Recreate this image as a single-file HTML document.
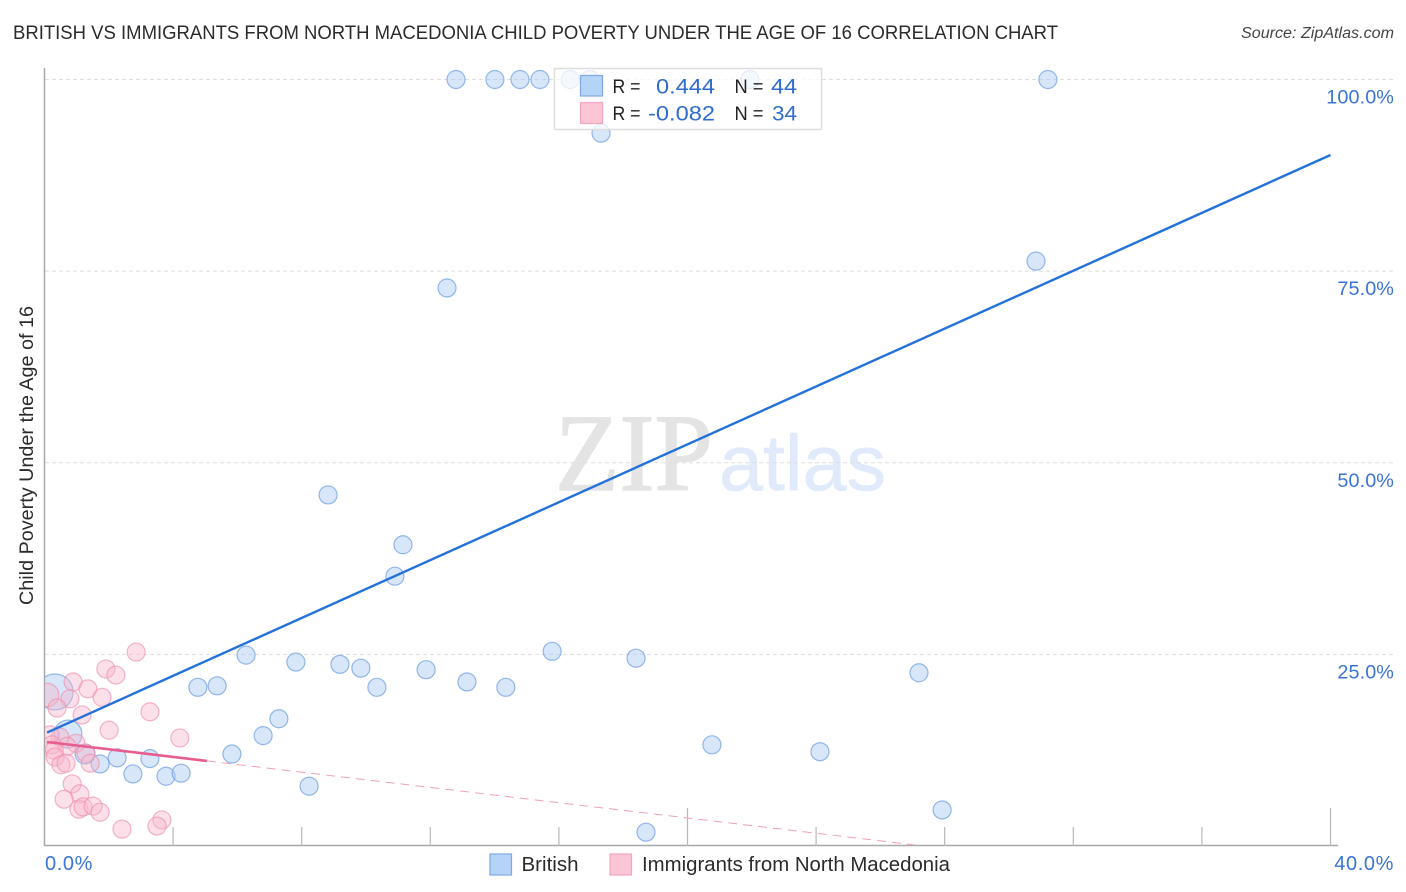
<!DOCTYPE html>
<html lang="en">
<head>
<meta charset="utf-8">
<title>British vs Immigrants from North Macedonia Child Poverty Correlation Chart</title>
<style>
html,body{margin:0;padding:0;background:#fff;width:1406px;height:892px;overflow:hidden}
svg{display:block;font-family:"Liberation Sans",sans-serif}
</style>
</head>
<body>
<svg id="chart" xmlns="http://www.w3.org/2000/svg" width="1406" height="892" viewBox="0 0 1406 892">
  <defs><clipPath id="plot-clip"><rect x="45" y="60" width="1361" height="786"/></clipPath></defs>
  <text x="13" y="39" font-size="19.5" fill="#2b2b2b" textLength="1045" lengthAdjust="spacingAndGlyphs">BRITISH VS IMMIGRANTS FROM NORTH MACEDONIA CHILD POVERTY UNDER THE AGE OF 16 CORRELATION CHART</text>
  <text x="1241" y="38" font-size="15.5" font-style="italic" fill="#444" textLength="153" lengthAdjust="spacingAndGlyphs">Source: ZipAtlas.com</text>
  <g>
    <text x="555" y="490" font-family="'Liberation Serif',serif" font-size="110" fill="#e4e4e4" stroke="#e4e4e4" stroke-width="1.4" textLength="158" lengthAdjust="spacingAndGlyphs">ZIP</text>
    <text x="719" y="490" font-size="79" fill="#e0eafa" stroke="#e0eafa" stroke-width="0.6" textLength="167" lengthAdjust="spacingAndGlyphs">atlas</text>
  </g>
  <g id="grid"></g>
  <g id="axes"></g>
  <g id="points" clip-path="url(#plot-clip)"></g>
  <g id="trends"></g>
  <g>
    <rect x="554.5" y="68.5" width="267" height="61" fill="#fff" fill-opacity="0.75" stroke="#dedede" stroke-width="1.5"/>
    <rect x="580.5" y="75.5" width="22" height="20.500" fill="#b5d2f7" stroke="#7fa9e0" stroke-width="1.2"/>
    <rect x="580.5" y="102.500" width="22" height="21" fill="#fcc5d6" stroke="#f2a5bd" stroke-width="1.2"/>
    <text x="612.500" y="93" font-size="19" fill="#222" textLength="28" lengthAdjust="spacingAndGlyphs">R =</text>
    <text x="656" y="93.500" font-size="21" fill="#2f6ccf" textLength="59" lengthAdjust="spacingAndGlyphs">0.444</text>
    <text x="734.500" y="93" font-size="19" fill="#222" textLength="29" lengthAdjust="spacingAndGlyphs">N =</text>
    <text x="771" y="93.500" font-size="21" fill="#2f6ccf" textLength="26" lengthAdjust="spacingAndGlyphs">44</text>
    <text x="612.500" y="120" font-size="19" fill="#222" textLength="28" lengthAdjust="spacingAndGlyphs">R =</text>
    <text x="648" y="120.500" font-size="21" fill="#2f6ccf" textLength="67" lengthAdjust="spacingAndGlyphs">-0.082</text>
    <text x="734.500" y="120" font-size="19" fill="#222" textLength="29" lengthAdjust="spacingAndGlyphs">N =</text>
    <text x="772" y="120.500" font-size="21" fill="#2f6ccf" textLength="25" lengthAdjust="spacingAndGlyphs">34</text>
  </g>
  <text transform="translate(33 455.500) rotate(-90)" font-size="19" fill="#2b2b2b" text-anchor="middle" textLength="299" lengthAdjust="spacingAndGlyphs">Child Poverty Under the Age of 16</text>
  <g>
    <rect x="490" y="854" width="21.500" height="21" fill="#b5d2f7" stroke="#7fa9e0" stroke-width="1.2"/>
    <text x="521.500" y="871" font-size="20" fill="#2b2b2b" textLength="57" lengthAdjust="spacingAndGlyphs">British</text>
    <rect x="610" y="854" width="21.500" height="21" fill="#fcc5d6" stroke="#f2a5bd" stroke-width="1.2"/>
    <text x="642" y="871" font-size="20" fill="#2b2b2b" textLength="308" lengthAdjust="spacingAndGlyphs">Immigrants from North Macedonia</text>
  </g>
</svg>
<script>
// Data (percent values)
const britishX = [12.80,14.01,14.79,15.41,16.35,16.97,21.94,31.21,17.31,30.84,12.52,8.82,11.15,10.90,15.79,18.40,27.20,6.27,7.82,9.19,9.84,10.34,11.87,13.14,14.35,4.77,5.37,7.29,6.80,5.83,3.28,2.26,1.73,2.75,3.78,4.25,8.23,20.76,24.12,27.92,18.71,0.33,0.73,1.26];
const britishY = [100,100,100,100,100,100,100,100,93.0,76.3,72.8,45.8,39.3,35.2,25.4,24.5,22.6,24.9,24.0,23.7,23.2,20.7,23.0,21.4,20.7,20.7,20.9,16.6,14.4,12.0,11.4,11.5,10.7,9.4,9.1,9.5,7.8,13.2,12.3,4.7,1.8,20.1,14.6,12.0];
const britishWeight = [1,1,1,1,1,1,1,1,1,1,1,1,1,1,1,1,1,1,1,1,1,1,1,1,1,1,1,1,1,1,1,1,1,1,1,1,1,1,1,1,1,4,2.4,1.2];
const immigrantX = [2.85,1.91,2.22,0.89,1.35,1.79,0.79,0.08,0.39,1.17,3.28,2.01,4.21,0.48,0.17,0.98,0.70,0.23,0.30,0.33,0.51,0.67,1.29,1.42,0.86,1.10,0.61,1.07,1.20,1.51,1.73,2.41,3.65,3.50];
const immigrantY = [25.3,23.1,22.3,21.4,20.5,19.4,19.2,19.7,18.0,17.1,17.5,15.1,14.1,14.2,14.5,13.4,13.0,13.2,12.5,11.6,10.6,10.8,12.1,10.8,8.1,6.8,6.1,4.8,5.1,5.2,4.4,2.2,3.4,2.6];
const immigrantWeight = [1,1,1,1,1,1,1,1.7,1,1,1,1,1,1,1,1,1,1,1,1,1,1,1,1,1,1,1,1,1,1,1,1,1,1];
const britishTrendX = [0.08,40];
const britishTrendY = [14.8,90.15];
const immigrantTrendX = [0.08,5.05];
const immigrantTrendY = [13.57,11.1];
const immigrantDashX = [5.05,27.08];
const immigrantDashY = [11.1,0.13];
const xTicks = [0,4,8,12,16,20,24,28,32,36,40];
const xMajorTicks = [20,40];
const yGrid = [25,50,75,100];
const yTickLabels = ["25.0%","50.0%","75.0%","100.0%"];
const xEndValues = [0,40];
const xEndLabels = ["0.0%","40.0%"];

const NS = "http://www.w3.org/2000/svg";
const sx = v => 44.5 + v * 32.15;
const sy = v => 846 - v * 7.665;
function mk(tag, parent, attrs){
  const el = document.createElementNS(NS, tag);
  for (const k in attrs) el.setAttribute(k, attrs[k]);
  parent.appendChild(el);
  return el;
}
const grid = document.getElementById('grid');
const axes = document.getElementById('axes');
const points = document.getElementById('points');
const trends = document.getElementById('trends');

yGrid.forEach((v,i) => {
  const g = mk('line', grid, {x1:45, x2:1394, y1:sy(v), y2:sy(v), stroke:'#dedede', 'stroke-width':1, 'stroke-dasharray':'4 3'});
  
  
  const t = mk('text', axes, {x:1394, y:sy(v)+24, 'font-size':19.8, fill:'#3a74d4', 'text-anchor':'end', 'letter-spacing':0.1});
  t.textContent = yTickLabels[i];
  
  
});

const yAxis = mk('line', axes, {x1:44.5, x2:44.5, y1:68, y2:846, stroke:'#a8a8a8', 'stroke-width':1.5});


const xAxis = mk('line', axes, {x1:44, x2:1338, y1:845.5, y2:845.5, stroke:'#a8a8a8', 'stroke-width':1.5});



xTicks.forEach(v => {
  if (v === 0) return;
  const top = xMajorTicks.includes(v) ? 808 : 827;
  const t = mk('line', axes, {x1:sx(v), x2:sx(v), y1:top, y2:846, stroke:'#b8b8b8', 'stroke-width':1.2});
  
  
});

xEndValues.forEach((v,i) => {
  const t = mk('text', axes, {x: i === 0 ? 45 : 1394, y:870, 'font-size':20, fill:'#3a74d4', 'text-anchor': i === 0 ? 'start' : 'end', 'letter-spacing':0.6});
  t.textContent = xEndLabels[i];
  
  
});

britishX.forEach((v,i) => {
  const c = mk('circle', points, {cx:sx(v), cy:sy(britishY[i]), r:9*Math.sqrt(britishWeight[i]), fill:'#a9c9f3', 'fill-opacity':0.47, stroke:'#6b9be0', 'stroke-opacity':0.7, 'stroke-width':1.2});
  
  
});
immigrantX.forEach((v,i) => {
  const c = mk('circle', points, {cx:sx(v), cy:sy(immigrantY[i]), r:9*Math.sqrt(immigrantWeight[i]), fill:'#f9b6ca', 'fill-opacity':0.42, stroke:'#ee8dab', 'stroke-opacity':0.65, 'stroke-width':1.2});
  
  
});

const lineBlue = mk('line', trends, {x1:sx(britishTrendX[0]), y1:sy(britishTrendY[0]), x2:sx(britishTrendX[1]), y2:sy(britishTrendY[1]), stroke:'#2472d9', 'stroke-width':2.4});


const linePink = mk('line', trends, {x1:sx(immigrantTrendX[0]), y1:sy(immigrantTrendY[0]), x2:sx(immigrantTrendX[1]), y2:sy(immigrantTrendY[1]), stroke:'#e85d8f', 'stroke-width':2.6});


const lineDash = mk('line', trends, {x1:sx(immigrantDashX[0]), y1:sy(immigrantDashY[0]), x2:sx(immigrantDashX[1]), y2:sy(immigrantDashY[1]), stroke:'#f0a0ba', 'stroke-width':1, 'stroke-dasharray':'9 6'});


</script>
</body>
</html>
